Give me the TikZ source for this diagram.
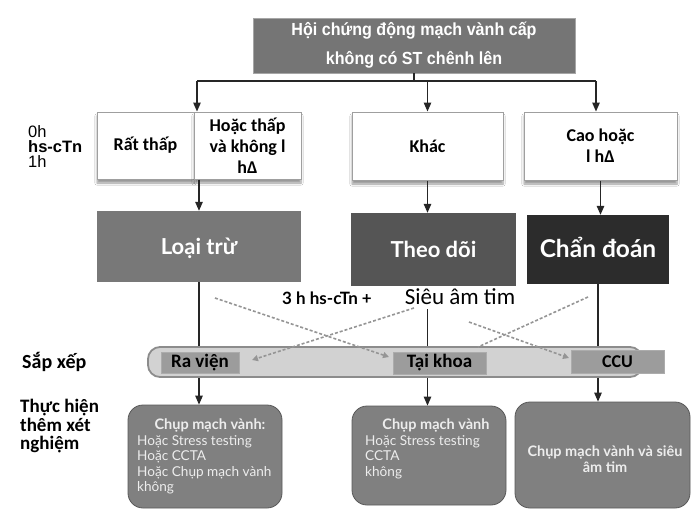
\documentclass[tikz,border=0pt]{standalone}
\usepackage{fontspec}
\setmainfont{Liberation Sans}
\newfontfamily\carl{Carlito}
\newfontfamily\narrowf[FakeStretch=0.92]{Liberation Sans}
\newfontfamily\geo{Lato}
\usetikzlibrary{arrows.meta,shadows.blur}
\definecolor{topfill}{HTML}{757575}
\definecolor{loaifill}{HTML}{787878}
\definecolor{theofill}{HTML}{555555}
\definecolor{chanfill}{HTML}{2C2C2C}
\definecolor{barfill}{HTML}{D2D2D2}
\definecolor{slotfill}{HTML}{9C9C9C}
\definecolor{botfill}{HTML}{808080}
\definecolor{dashcol}{HTML}{959595}
\tikzset{
  topbox/.style={draw=gray!70, fill=topfill, text=white, inner sep=0pt, align=center,
    font=\narrowf\bfseries\fontsize{17.5}{29}\selectfont},
  lvlbox/.style={draw=gray!75, line width=1pt, fill=white, inner sep=0pt, align=center,
    font=\carl\bfseries\fontsize{18}{21}\selectfont,
    blur shadow={shadow xshift=0pt, shadow yshift=-4pt, shadow blur steps=6, shadow opacity=40}},
  bigbox/.style={draw=none, text=white, inner sep=0pt, text height=18pt, text depth=2pt,
    font=\geo\bfseries\fontsize{22}{24}\selectfont},
  slot/.style={draw=gray!65, line width=0.8pt, fill=slotfill, inner sep=0pt,
    font=\carl\bfseries\fontsize{19}{20}\selectfont},
  botbox/.style={draw=gray!70!black, line width=0.8pt, fill=botfill, rounded corners=15pt,
    inner sep=0pt, text=white!93!black},
  bottext/.style={inner sep=0pt, text=white!93!black, font=\geo\fontsize{13.6}{15.5}\selectfont},
  bothead/.style={inner sep=0pt, text=white!93!black, font=\geo\bfseries\fontsize{14.5}{15.5}\selectfont},
  conn/.style={line width=1.8pt, draw=black!85},
  arr/.style={line width=1.3pt, draw=black!85, -{Triangle[length=9pt,width=7.5pt]}},
  dashar/.style={draw=dashcol, line width=1.6pt, dash pattern=on 3pt off 2pt, -{Triangle[length=6pt,width=6pt]}},
  dashplain/.style={draw=dashcol, line width=1.6pt, dash pattern=on 3pt off 2pt},
  lbl/.style={inner sep=0pt, anchor=west},
}
\begin{document}
\begin{tikzpicture}[x=1pt,y=-1pt]
\useasboundingbox[fill=white] (0,0) rectangle (694,517);

% top box
\node[topbox, minimum width=322pt, minimum height=55pt] (top) at (414,45.5)
  {Hội chứng động mạch vành cấp\\không có ST chênh lên};

% level boxes
\node[lvlbox, minimum width=97pt, minimum height=67pt] (c1) at (145.5,145.5) {Rất thấp};
\node[lvlbox, minimum width=107pt, minimum height=67pt] (c2) at (247.5,145.5) {Hoặc thấp\\và không l\\hΔ};
\node[lvlbox, minimum width=151pt, minimum height=68pt] (khac) at (427.5,146) {Khác};
\node[lvlbox, minimum width=153pt, minimum height=68pt] (cao) at (600.5,146) {Cao hoặc\\l hΔ};

% connectors from top
\coordinate (jl) at (197,81);
\coordinate (jr) at (596,81);
\draw[conn] (top.south) -- (top.south |- jl);
\draw[conn] (jl) -- (jr);
\draw[arr] (jl) -- (jl |- c1.north);
\draw[arr] (khac.north |- jl) -- (khac.north);
\draw[arr] (jr) -- (jr |- cao.north);

% big boxes
\node[bigbox, fill=loaifill, minimum width=204pt, minimum height=71pt] (loai) at (199,246.5) {Loại trừ};
\node[bigbox, fill=theofill, minimum width=165pt, minimum height=73pt] (theo) at (433.5,249.5) {Theo dõi};
\node[bigbox, fill=chanfill, minimum width=142pt, minimum height=69pt, font=\geo\bfseries\fontsize{24.5}{26}\selectfont] (chan) at (598,249.5) {Chẩn đoán};

\draw[arr] (loai.north |- c1.south) -- (loai.north);
\draw[arr] (khac.south) -- (khac.south |- theo.north);
\draw[arr] (cao.south) -- (cao.south |- chan.north);

% middle labels
\node[inner sep=0pt, font=\geo\bfseries\fontsize{17}{18}\selectfont] (hs3) at (327,298) {3 h hs-cTn +};
\node[inner sep=0pt, font=\carl\fontsize{23}{24}\selectfont] (sieu) at (460,297) {Siêu âm tim};

% bottom boxes
\node[botbox, minimum width=154pt, minimum height=103pt] (b1) at (205,456.5) {};
\node[botbox, minimum width=154pt, minimum height=99pt] (b2) at (429,455.5) {};
\node[botbox, minimum width=175pt, minimum height=106pt] (b3) at (602.5,455) {};

% vertical lines through the bar
\draw[arr, line width=1.1pt] (loai.south) -- (loai.south |- b1.north);
\draw[arr, line width=1.1pt] (khac.south |- sieu.south) ++(0,4) -- (khac.south |- b2.north);
\draw[arr, line width=1.1pt] (chan.south) -- (chan.south |- b3.north);

% bar
\node[draw=gray!90, line width=1.8pt, fill=barfill, rounded corners=12pt,
      minimum width=494pt, minimum height=30pt, inner sep=0pt] (bar) at (395,362) {};
\node[slot, minimum width=78pt, minimum height=21pt] (ra) at (200,362.5) {Ra viện};
\node[slot, minimum width=93pt, minimum height=22pt] (tai) at (439.5,363) {Tại khoa};
\node[slot, minimum width=93pt, minimum height=23pt, font=\carl\bfseries\fontsize{18}{20}\selectfont] (ccu) at (617.5,361.5) {CCU};

% dashed arrows
\coordinate (d1s) at (215,298);
\coordinate (d1e) at (389,357);
\coordinate (d2s) at (414,308);
\coordinate (d2e) at (252,360);
\coordinate (d3s) at (469,322);
\coordinate (d3e) at (569,358);
\coordinate (d4s) at (588,297);
\coordinate (d4e) at (478,347);
\draw[dashar] (d1s) -- (d1e);
\draw[dashar] (d2s) -- (d2e);
\draw[dashar] (d3s) -- (d3e);
\draw[dashplain] (d4s) -- (d4e);

% left labels
\node[lbl, font=\fontsize{16.5}{16}\selectfont] (l0h) at (28,132) {0h};
\node[lbl, font=\bfseries\fontsize{16.5}{16}\selectfont] (lhs) at (28,147) {hs-cTn};
\node[lbl, font=\fontsize{16.5}{16}\selectfont] (l1h) at (28,162) {1h};
\node[lbl, font=\carl\bfseries\fontsize{20}{20}\selectfont] (sap) at (22,362) {Sắp xếp};
\node[lbl, font=\carl\bfseries\fontsize{19}{18.5}\selectfont, align=left, anchor=north west] (thuc) at (20,399) {Thực hiện\\thêm xét\\nghiệm};

% bottom box texts
\node[bothead] (t1h) at (210,425) {Chụp mạch vành:};
\node[bottext, align=left, anchor=north west] (t1b) at (137,435) {Hoặc Stress testing\\Hoặc CCTA\\Hoặc Chụp mạch vành\\không};
\node[bothead] (t2h) at (436,425) {Chụp mạch vành};
\node[bottext, align=left, anchor=north west] (t2b) at (365,435) {Hoặc Stress testing\\CCTA\\không};
\node[bothead, align=center] (t3) at (605,459) {Chụp mạch vành và siêu\\âm tim};
\end{tikzpicture}
\end{document}
